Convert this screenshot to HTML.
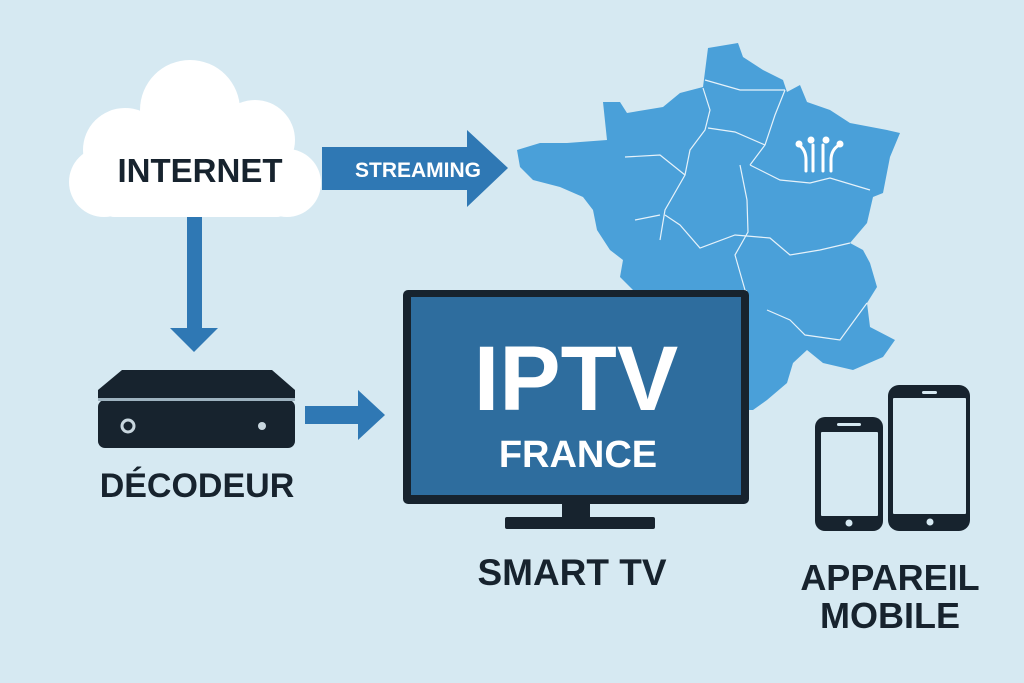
<!DOCTYPE html>
<html><head><meta charset="utf-8"><style>
html,body{margin:0;padding:0;background:#d6e9f2;}
svg{display:block;}
text{font-family:"Liberation Sans","DejaVu Sans",sans-serif;font-weight:bold;}
</style></head><body>
<svg width="1024" height="683" viewBox="0 0 1024 683" xmlns="http://www.w3.org/2000/svg">
<rect width="1024" height="683" fill="#d6e9f2"/>
<!-- France map -->
<polygon fill="#4aa0d9" points="708,48 738,43 743,57 763,70 783,80 787,92 800,85 807,102 830,110 850,123 887,130 900,133 890,157 883,193 873,197 867,223 850,243 863,250 870,263 877,287 867,303 870,327 895,340 883,357 853,370 823,363 807,350 793,363 787,383 767,400 753,410 747,410 747,290 633,290 620,277 623,260 610,250 597,230 593,210 583,197 560,187 533,180 520,167 517,150 540,143 567,143 607,140 603,102 620,102 627,113 663,107 680,93 703,87"/>
<g fill="none" stroke="#e6f2fa" stroke-width="1.2">
<path d="M705,80 L740,90 L785,90"/>
<path d="M703,88 L710,110 L705,130 L690,150 L685,175 L665,210 L660,240"/>
<path d="M785,90 L775,115 L765,145 L750,165"/>
<path d="M708,128 L735,132 L765,145"/>
<path d="M625,157 L660,155 L685,175"/>
<path d="M740,165 L747,200 L748,232 L735,255 L745,290"/>
<path d="M750,165 L780,180 L810,183 L830,178 L870,190"/>
<path d="M665,215 L680,225 L700,248 L735,235 L770,238 L790,255 L820,250 L850,243"/>
<path d="M635,220 L660,215"/>
<path d="M767,310 L790,320 L805,335 L840,340 L867,303"/>
</g>
<!-- antenna icon -->
<g stroke="#fff" stroke-width="3" fill="none" stroke-linecap="round">
<path d="M806,171 L806,160 Q806,150 799,145"/>
<path d="M813,171 L813,145"/>
<path d="M823,171 L823,145"/>
<path d="M831,171 L831,160 Q831,150 839,145"/>
</g>
<g fill="#fff"><circle cx="799" cy="144" r="3.5"/><circle cx="811" cy="140" r="3.5"/><circle cx="826" cy="140" r="3.5"/><circle cx="840" cy="144" r="3.5"/></g>
<!-- cloud -->
<g fill="#ffffff">
<circle cx="190" cy="110" r="50"/>
<circle cx="125" cy="150" r="42"/>
<circle cx="255" cy="140" r="40"/>
<circle cx="287" cy="183" r="34"/>
<circle cx="104" cy="182" r="35"/>
<rect x="104" y="140" width="183" height="77" rx="10"/>
</g>
<text x="200" y="182" font-size="33" fill="#17232e" text-anchor="middle">INTERNET</text>
<!-- streaming arrow -->
<polygon fill="#2f78b4" points="322,147 467,147 467,130 508,168 467,207 467,190 322,190"/>
<text x="418" y="177" font-size="21" fill="#ffffff" text-anchor="middle">STREAMING</text>
<!-- down arrow -->
<polygon fill="#2f78b4" points="187,217 202,217 202,328 218,328 194,352 170,328 187,328"/>
<!-- decoder -->
<polygon fill="#17232e" points="122,370 272,370 295,390 295,400 98,400 98,390"/>
<rect x="98" y="400" width="197" height="48" rx="7" fill="#17232e"/>
<rect x="98" y="398" width="197" height="3" fill="#9eb3c0"/>
<circle cx="128" cy="426" r="6" fill="none" stroke="#c8d6de" stroke-width="3"/>
<circle cx="262" cy="426" r="4" fill="#c8d6de"/>
<text x="197" y="497" font-size="34" fill="#17232e" text-anchor="middle">DÉCODEUR</text>
<!-- right arrow -->
<polygon fill="#2f78b4" points="305,406 358,406 358,390 385,415 358,440 358,424 305,424"/>
<!-- TV -->
<rect x="403" y="290" width="346" height="214" rx="5" fill="#17232e"/>
<rect x="411" y="297" width="330" height="198" fill="#2e6d9e"/>
<rect x="562" y="503" width="28" height="16" fill="#17232e"/>
<rect x="505" y="517" width="150" height="12" rx="2" fill="#17232e"/>
<text x="576" y="410" font-size="92" fill="#ffffff" text-anchor="middle">IPTV</text>
<text x="578" y="467" font-size="38" fill="#ffffff" text-anchor="middle">FRANCE</text>
<text x="572" y="585" font-size="37" fill="#17232e" text-anchor="middle">SMART TV</text>
<!-- phones -->
<rect x="815" y="417" width="68" height="114" rx="10" fill="#17232e"/>
<rect x="821" y="432" width="57" height="84" rx="1" fill="#d6e9f2"/>
<rect x="837" y="423" width="24" height="3" rx="1.5" fill="#d6e9f2"/>
<circle cx="849" cy="523" r="3.5" fill="#d6e9f2"/>
<rect x="888" y="385" width="82" height="146" rx="11" fill="#17232e"/>
<rect x="893" y="398" width="73" height="116" rx="1" fill="#d6e9f2"/>
<rect x="922" y="391" width="15" height="3" rx="1.5" fill="#d6e9f2"/>
<circle cx="930" cy="522" r="3.5" fill="#d6e9f2"/>
<text x="890" y="590" font-size="36" fill="#17232e" text-anchor="middle">APPAREIL</text>
<text x="890" y="628" font-size="36" fill="#17232e" text-anchor="middle">MOBILE</text>
</svg>
</body></html>
